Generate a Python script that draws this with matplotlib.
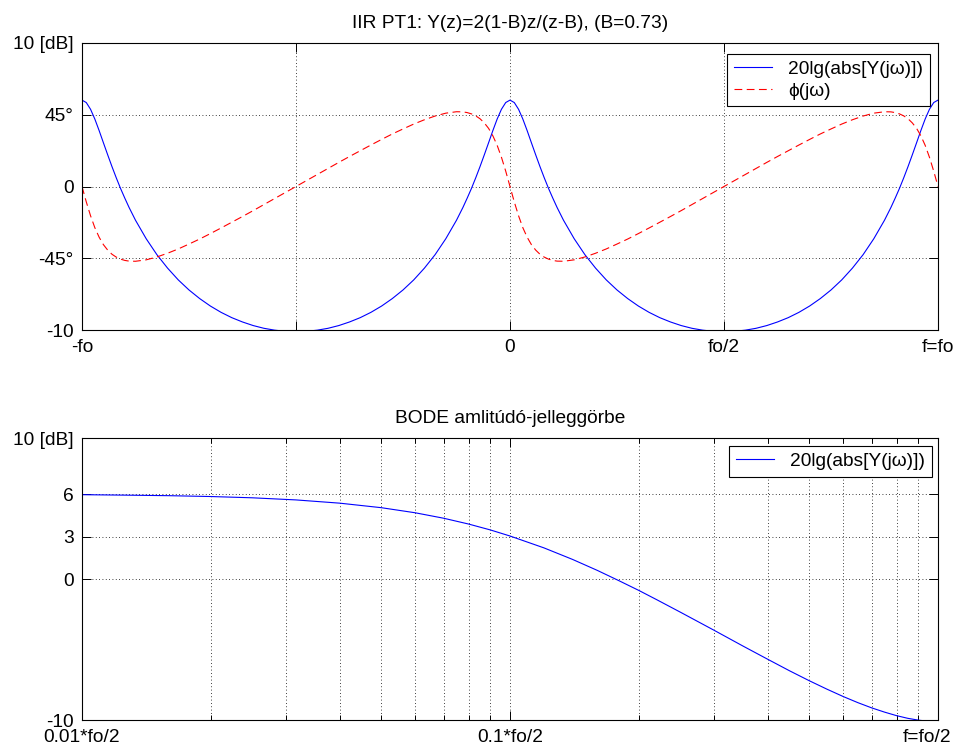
import matplotlib
matplotlib.use("Agg")
import matplotlib.pyplot as plt
from matplotlib.ticker import FixedLocator, NullFormatter
from matplotlib.transforms import ScaledTranslation

plt.rcParams['font.family'] = ['Liberation Sans', 'DejaVu Sans']
plt.rcParams['font.size'] = 13.8

# top panel: frequency in units of fo, magnitude in dB, phase in units of 9 deg (45 deg = 5)
x_top = [-1, -0.99, -0.98, -0.97, -0.96, -0.95, -0.94, -0.93, -0.92, -0.91, -0.9, -0.89,
         -0.875, -0.85, -0.825, -0.8, -0.775, -0.75, -0.725, -0.7, -0.675, -0.65, -0.625,
         -0.6, -0.575, -0.55, -0.525, -0.5, -0.475, -0.45, -0.425, -0.4, -0.375, -0.35,
         -0.325, -0.3, -0.275, -0.25, -0.225, -0.2, -0.175, -0.15, -0.125, -0.11, -0.1,
         -0.09, -0.08, -0.07, -0.06, -0.05, -0.04, -0.03, -0.02, -0.01,
         0, 0.01, 0.02, 0.03, 0.04, 0.05, 0.06, 0.07, 0.08, 0.09, 0.1, 0.11,
         0.125, 0.15, 0.175, 0.2, 0.225, 0.25, 0.275, 0.3, 0.325, 0.35, 0.375,
         0.4, 0.425, 0.45, 0.475, 0.5, 0.525, 0.55, 0.575, 0.6, 0.625, 0.65,
         0.675, 0.7, 0.725, 0.75, 0.775, 0.8, 0.825, 0.85, 0.875, 0.89, 0.9,
         0.91, 0.92, 0.93, 0.94, 0.95, 0.96, 0.97, 0.98, 0.99, 1]
mag_top = [6.02, 5.85, 5.38, 4.70, 3.90, 3.05, 2.21, 1.39, 0.61, -0.13, -0.81, -1.46,
           -2.35, -3.64, -4.75, -5.69, -6.51, -7.21, -7.81, -8.33, -8.77, -9.14, -9.44,
           -9.69, -9.88, -10.01, -10.09, -10.11, -10.09, -10.01, -9.88, -9.69, -9.44, -9.14,
           -8.77, -8.33, -7.81, -7.21, -6.51, -5.69, -4.75, -3.64, -2.35, -1.46, -0.81,
           -0.13, 0.61, 1.39, 2.21, 3.05, 3.90, 4.70, 5.38, 5.85,
           6.02, 5.85, 5.38, 4.70, 3.90, 3.05, 2.21, 1.39, 0.61, -0.13, -0.81, -1.46,
           -2.35, -3.64, -4.75, -5.69, -6.51, -7.21, -7.81, -8.33, -8.77, -9.14, -9.44,
           -9.69, -9.88, -10.01, -10.09, -10.11, -10.09, -10.01, -9.88, -9.69, -9.44, -9.14,
           -8.77, -8.33, -7.81, -7.21, -6.51, -5.69, -4.75, -3.64, -2.35, -1.46, -0.81,
           -0.13, 0.61, 1.39, 2.21, 3.05, 3.90, 4.70, 5.38, 5.85, 6.02]
phase_top = [0, -1.07, -2.04, -2.87, -3.53, -4.05, -4.43, -4.72, -4.92, -5.06, -5.15, -5.20,
             -5.21, -5.11, -4.91, -4.65, -4.35, -4.01, -3.66, -3.28, -2.89, -2.49, -2.09,
             -1.68, -1.26, -0.84, -0.42, 0, 0.42, 0.84, 1.26, 1.68, 2.09, 2.49,
             2.89, 3.28, 3.66, 4.01, 4.35, 4.65, 4.91, 5.11, 5.21, 5.20, 5.15,
             5.06, 4.92, 4.72, 4.43, 4.05, 3.53, 2.87, 2.04, 1.07,
             0, -1.07, -2.04, -2.87, -3.53, -4.05, -4.43, -4.72, -4.92, -5.06, -5.15, -5.20,
             -5.21, -5.11, -4.91, -4.65, -4.35, -4.01, -3.66, -3.28, -2.89, -2.49, -2.09,
             -1.68, -1.26, -0.84, -0.42, 0, 0.42, 0.84, 1.26, 1.68, 2.09, 2.49,
             2.89, 3.28, 3.66, 4.01, 4.35, 4.65, 4.91, 5.11, 5.21, 5.20, 5.15,
             5.06, 4.92, 4.72, 4.43, 4.05, 3.53, 2.87, 2.04, 1.07, 0]
top_xticks = [-1, -0.5, 0, 0.5, 1]
top_xlabels = ['-fo', '', '0', 'fo/2', 'f=fo']
top_yticks = [-10, -5, 0, 5, 10]
top_ylabels = ['-10', '-45°', '0', '45°', '10 [dB]']

# bottom panel: frequency as fraction of fo/2 (log axis)
x_bode = [0.01, 0.0125, 0.016, 0.02, 0.025, 0.0316, 0.04, 0.05, 0.06, 0.07, 0.08, 0.09,
          0.1, 0.12, 0.14, 0.16, 0.18, 0.2, 0.22, 0.25, 0.3, 0.35, 0.4, 0.45, 0.5,
          0.55, 0.6, 0.65, 0.7, 0.75, 0.8, 0.85, 0.9, 0.95, 1.0]
mag_bode = [5.98, 5.95, 5.91, 5.85, 5.76, 5.61, 5.38, 5.06, 4.70, 4.31, 3.90, 3.48,
            3.05, 2.21, 1.39, 0.61, -0.13, -0.81, -1.46, -2.35, -3.64, -4.75, -5.69, -6.51, -7.21,
            -7.81, -8.33, -8.77, -9.14, -9.44, -9.69, -9.88, -10.01, -10.09, -10.11]
bode_xticks = [0.01, 0.1, 1]
bode_xlabels = ['0.01*fo/2', '0.1*fo/2', 'f=fo/2']
bode_minor = [0.02, 0.03, 0.04, 0.05, 0.06, 0.07, 0.08, 0.09,
              0.2, 0.3, 0.4, 0.5, 0.6, 0.7, 0.8, 0.9]
bode_yticks = [-10, 0, 3, 6, 10]
bode_ylabels = ['-10', '0', '3', '6', '10 [dB]']

mag_label = '20lg(abs[Y(jω)])'
phase_label = 'ϕ(jω)'

fig = plt.figure(figsize=(9.59, 7.49), dpi=100)
ax1 = fig.add_axes([0.0855, 0.5594, 0.8926, 0.3832])
ax2 = fig.add_axes([0.0855, 0.0387, 0.8926, 0.3765])


def style(ax):
    ax.tick_params(which='both', direction='in', top=True, right=True,
                   length=6.2, width=0.7, pad=6)
    ax.tick_params(axis='x', pad=6.5)
    for s in ax.spines.values():
        s.set_linewidth(0.8)
    ax.grid(True, which='major', color='black', linestyle=(0, (1, 3)), linewidth=0.6)


legend_kw = dict(loc='upper right', borderaxespad=0, fancybox=False, framealpha=1,
                 edgecolor='black', handlelength=2.0, handletextpad=0.85,
                 borderpad=0.35, labelspacing=0.22)

# top
ax1.plot(x_top, mag_top, color='blue', lw=0.8, label=mag_label)
ax1.plot(x_top, phase_top, color='red', lw=0.8, dashes=(7, 4), label=phase_label)
ax1.set_xlim(-1, 1)
ax1.set_ylim(-10, 10)
ax1.set_xticks(top_xticks)
ax1.set_xticklabels(top_xlabels)
ax1.set_yticks(top_yticks)
ax1.set_yticklabels(top_ylabels)
style(ax1)
ax1.set_title('IIR PT1: Y(z)=2(1-B)z/(z-B), (B=0.73)', fontsize=13.8, pad=11)
leg1 = ax1.legend(bbox_to_anchor=(0.9907, 0.9617), **legend_kw)
leg1.get_frame().set_linewidth(0.8)

# bottom
ax2.semilogx(x_bode, mag_bode, color='blue', lw=0.8, label=mag_label)
ax2.set_xlim(0.01, 1)
ax2.set_ylim(-10, 10)
ax2.set_xticks(bode_xticks)
ax2.set_xticklabels(bode_xlabels)
ax2.xaxis.set_minor_locator(FixedLocator(bode_minor))
ax2.xaxis.set_minor_formatter(NullFormatter())
ax2.set_yticks(bode_yticks)
ax2.set_yticklabels(bode_ylabels)
style(ax2)
ax2.tick_params(which='minor', length=3.5)
ax2.grid(True, which='minor', axis='x', color='black', linestyle=(0, (1, 3)), linewidth=0.6)
ax2.set_title('BODE amlitúdó-jelleggörbe', fontsize=13.8, pad=11)
leg2 = ax2.legend(bbox_to_anchor=(0.993, 0.9716), **legend_kw)
leg2.get_frame().set_linewidth(0.8)

# last bottom tick label sits a little left of its tick so it stays inside the figure
last = ax2.xaxis.get_major_ticks()[2].label1
last.set_transform(last.get_transform() + ScaledTranslation(-0.11, 0, fig.dpi_scale_trans))

fig.savefig('out.png', dpi=100)
